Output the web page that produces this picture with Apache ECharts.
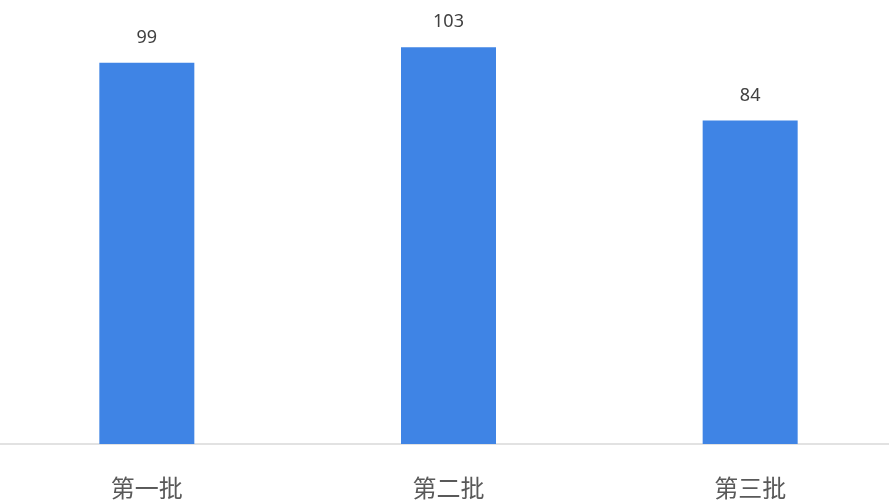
<!DOCTYPE html>
<html><head><meta charset="utf-8">
<script src="https://cdn.jsdelivr.net/npm/echarts@6/dist/echarts.min.js"></script>
<style>html,body{margin:0;padding:0;background:#fff;overflow:hidden;width:889px;height:500px}#c{position:absolute;left:-4px;top:0;width:905px;height:500px}</style>
</head><body><div id="c"></div>
<script>
const categories = ['第一批', '第二批', '第三批'];
const values = [99, 103, 84];
const chart = echarts.init(document.getElementById('c'));
chart.setOption({
  animation: false,
  grid: {left: 0, right: 0, top: 20.3, bottom: 54},
  xAxis: {
    type: 'category', data: categories,
    axisTick: {show: false},
    axisLine: {lineStyle: {color: '#d9d9d9', width: 1.5}},
    axisLabel: {fontSize: 24, color: '#595959', margin: 32, fontFamily: 'Noto Sans CJK SC'}
  },
  yAxis: {type: 'value', min: 0, max: 110, show: false, splitLine: {show: false}},
  series: [{
    type: 'bar', data: values, barWidth: 95,
    itemStyle: {color: '#3f84e5'},
    label: {show: true, position: 'top', distance: 16, fontSize: 18, color: '#404040', fontFamily: 'Noto Sans'}
  }]
});
</script></body></html>
